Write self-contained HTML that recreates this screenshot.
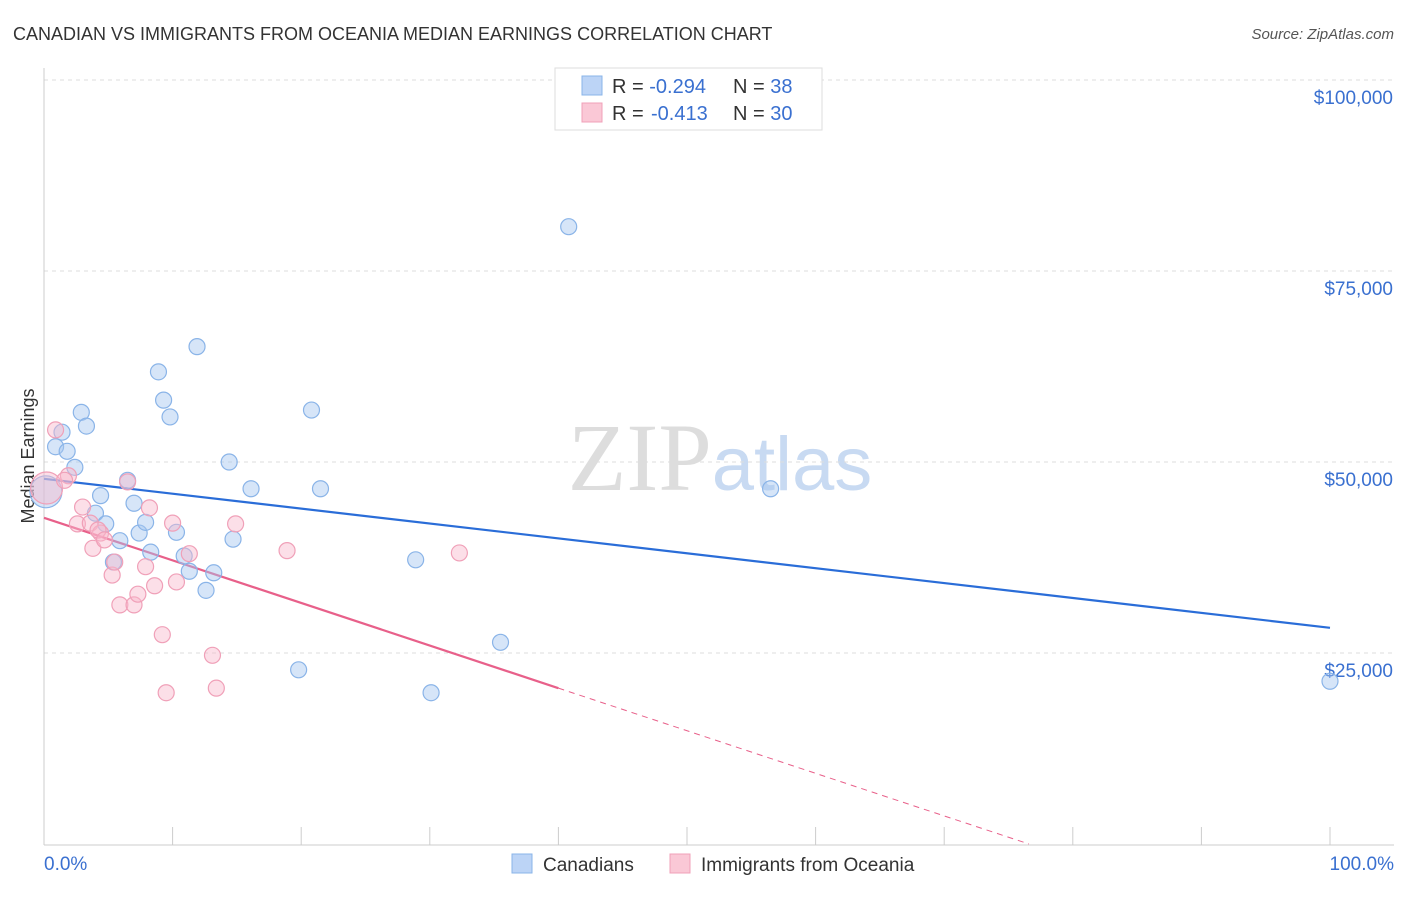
<!DOCTYPE html>
<html><head><meta charset="utf-8">
<style>
body{margin:0;background:#fff;font-family:"Liberation Sans",sans-serif;}
svg text{font-family:"Liberation Sans",sans-serif;}
</style></head>
<body>
<svg id="chart" width="1406" height="892" xmlns="http://www.w3.org/2000/svg">
<text x="13" y="40" font-size="18" fill="#333">CANADIAN VS IMMIGRANTS FROM OCEANIA MEDIAN EARNINGS CORRELATION CHART</text>
<text x="1394" y="39" font-size="15" fill="#555" text-anchor="end" font-style="italic">Source: ZipAtlas.com</text>
<text x="720" y="490" font-size="96" text-anchor="middle"><tspan fill="#ddd" font-family="Liberation Serif">ZIP</tspan><tspan fill="#c8daf2" font-size="76">atlas</tspan></text>
<text transform="translate(34,456) rotate(-90)" font-size="18" fill="#333" text-anchor="middle">Median Earnings</text>
<g id="grid"></g><g id="axes"></g><g id="lines"></g><g id="pts"></g>
<g>
<rect x="555" y="68" width="267" height="62" fill="#fff" stroke="#ddd"/>
<rect x="582" y="76" width="20" height="19" fill="#bcd4f6" stroke="#8ab4e8"/>
<rect x="582" y="103" width="20" height="19" fill="#fac8d6" stroke="#f0a0b8"/>
<text x="612" y="93" font-size="20" fill="#333">R = <tspan fill="#3a70d0">-0.294</tspan><tspan x="733">N = </tspan><tspan fill="#3a70d0">38</tspan></text>
<text x="612" y="120" font-size="20" fill="#333">R = <tspan x="651" fill="#3a70d0">-0.413</tspan><tspan x="733">N = </tspan><tspan fill="#3a70d0">30</tspan></text>
</g>
<g>
<rect x="512" y="854" width="20" height="19" fill="#bcd4f6" stroke="#8ab4e8"/>
<text x="543" y="871" font-size="19" fill="#333">Canadians</text>
<rect x="670" y="854" width="20" height="19" fill="#fac8d6" stroke="#f0a0b8"/>
<text x="701" y="871" font-size="19" fill="#333">Immigrants from Oceania</text>
</g>
</svg>
<script>
const yTicks=[25000,50000,75000,100000];
const yTickLabels=["$25,000","$50,000","$75,000","$100,000"];
const xTickLabels=["0.0%","100.0%"];
const canX=[0.9,1.4,1.8,2.4,2.9,3.3,4.4,4.0,4.8,5.4,5.9,6.5,7.0,7.4,7.9,8.3,8.9,9.3,9.8,10.3,10.9,11.3,11.9,12.6,13.2,14.4,14.7,16.1,19.8,20.8,21.5,28.9,30.1,35.5,40.8,56.5,100,0.15];
const canY=[52000,53900,51400,49300,56500,54700,45600,43300,41900,36900,39700,47600,44600,40700,42100,38200,61800,58100,55900,40800,37700,35700,65100,33200,35500,50000,39900,46500,22800,56800,46500,37200,19800,26400,80800,46500,21300,46100];
const canSize=[1,1,1,1,1,1,1,1,1,1,1,1,1,1,1,1,1,1,1,1,1,1,1,1,1,1,1,1,1,1,1,1,1,1,1,1,1,2];
const ocX=[0.2,0.9,1.9,3.0,2.6,3.6,3.8,4.4,5.3,5.5,5.9,6.5,7.0,7.3,7.9,8.2,8.6,9.2,9.5,10.0,10.3,11.3,13.1,13.4,14.9,18.9,32.3,4.2,4.7,1.6];
const ocY=[46600,54200,48200,44100,41900,42000,38700,40700,35200,36900,31300,47400,31300,32700,36300,44000,33800,27400,19800,42000,34300,38000,24700,20400,41900,38400,38100,41100,39800,47600];
const ocSize=[2,1,1,1,1,1,1,1,1,1,1,1,1,1,1,1,1,1,1,1,1,1,1,1,1,1,1,1,1,1];
const canTrend=[47800,28300];
const ocTrend=[42700,20400,40];
const NS="http://www.w3.org/2000/svg";
const X=p=>44+p*12.86;
const Y=v=>653-(v-25000)*191/25000;
function mk(parent,tag,attrs){const e=document.createElementNS(NS,tag);for(const k in attrs)e.setAttribute(k,attrs[k]);document.getElementById(parent).appendChild(e);return e;}
yTicks.forEach((v,i)=>{
 let l=mk('grid','line',{x1:44,x2:1394,y1:Y(v),y2:Y(v),stroke:'#ddd','stroke-dasharray':'4,4'});
 
 
 let t=mk('axes','text',{x:1393,y:Y(v)+24,'font-size':19,fill:'#3a70d0','text-anchor':'end'});
 t.textContent=yTickLabels[i];
 
 
});
let ax=mk('axes','line',{x1:44,x2:44,y1:68,y2:845,stroke:'#ccc'});


let bx=mk('axes','line',{x1:44,x2:1394,y1:845,y2:845,stroke:'#ccc'});


for(let i=0;i<=10;i++){let t=mk('axes','line',{x1:X(i*10),x2:X(i*10),y1:827,y2:845,stroke:'#ccc'});
 
 }
[[0,'start',44],[100,'end',1394]].forEach((d,i)=>{let t=mk('axes','text',{x:d[2],y:870,'font-size':19,fill:'#3a70d0','text-anchor':d[1]});t.textContent=xTickLabels[i];
 
 });
function dots(xs,ys,sz,fill,stroke,name){xs.forEach((x,i)=>{let c=mk('pts','circle',{cx:X(x),cy:Y(ys[i]),r:sz[i]==2?16:8,fill:fill,stroke:stroke,'stroke-width':1.2});
 
 });}
dots(canX,canY,canSize,'rgba(165,198,240,0.45)','#8ab4e8','canadians-point');
dots(ocX,ocY,ocSize,'rgba(248,185,205,0.45)','#f0a0b8','oceania-point');
let bl=mk('lines','line',{x1:X(0),y1:Y(canTrend[0]),x2:X(100),y2:Y(canTrend[1]),stroke:'#2a6dd8','stroke-width':2.2});


const slope=(ocTrend[1]-ocTrend[0])/ocTrend[2];const xz=-ocTrend[0]/slope;
let pl=mk('lines','line',{x1:X(0),y1:Y(ocTrend[0]),x2:X(ocTrend[2]),y2:Y(ocTrend[1]),stroke:'#e8608a','stroke-width':2.2});


let pd=mk('lines','line',{x1:X(ocTrend[2]),y1:Y(ocTrend[1]),x2:X(xz),y2:Y(0),stroke:'#e8608a','stroke-width':1,'stroke-dasharray':'6,5'});


</script>
</body></html>
